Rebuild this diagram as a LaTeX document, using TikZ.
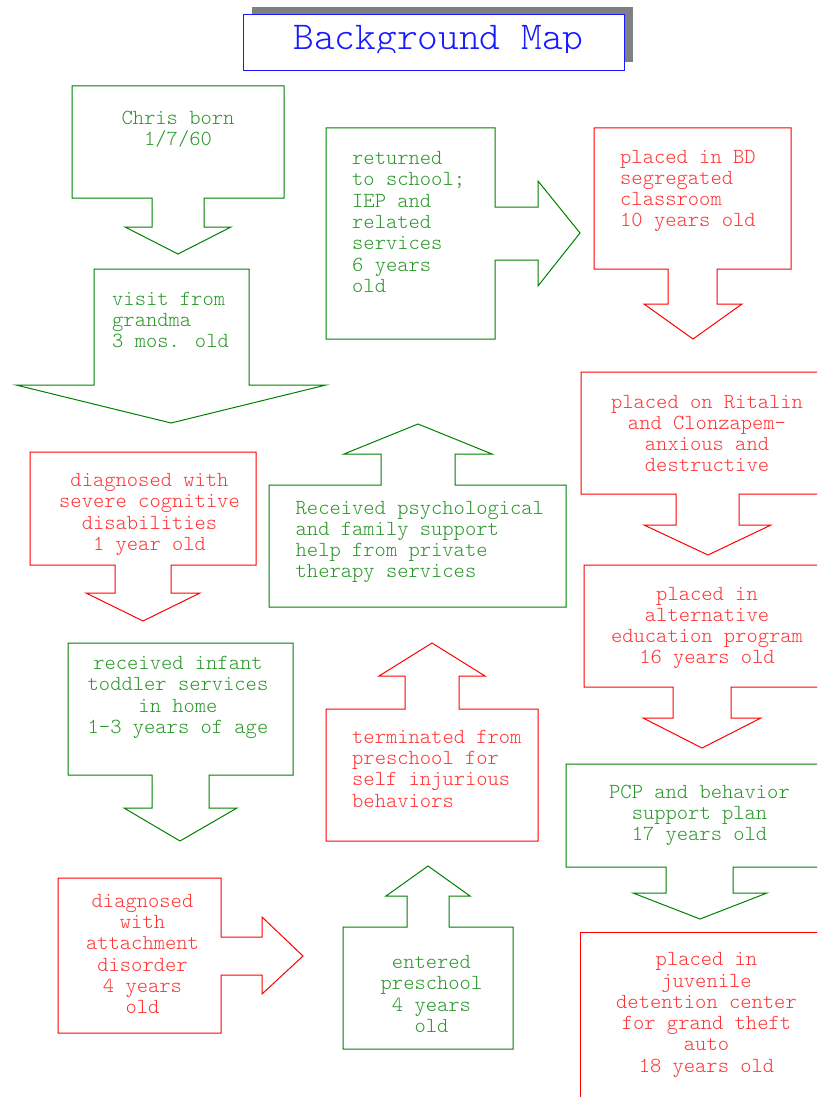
\documentclass[tikz,border=0pt]{standalone}
\usepackage{fontspec}
\newfontfamily\cour{Latin Modern Mono Light}
\definecolor{lgreen}{RGB}{0,128,0}
\definecolor{tgreen}{RGB}{40,150,40}
\definecolor{lred}{RGB}{255,0,0}
\definecolor{tred}{RGB}{255,50,50}
\definecolor{tblue}{RGB}{25,25,255}
\definecolor{shadowgray}{RGB}{128,128,128}
\tikzset{
  gshape/.style={draw=lgreen, line width=1pt, line join=miter},
  rshape/.style={draw=lred, line width=1pt, line join=miter},
  txt/.style={font=\cour\fontsize{21.5}{21.3}\selectfont, inner sep=0pt},
  gtxt/.style={txt, text=tgreen},
  rtxt/.style={txt, text=tred},
}
\begin{document}
\begin{tikzpicture}[x=1pt,y=-1pt]
\useasboundingbox (0,0) rectangle (817,1097);
\clip (0,0) rectangle (817,1097);
% title
\fill[shadowgray] (252,7) rectangle (633,62);
\draw[fill=white, draw=tblue, line width=1pt] (243,15) rectangle (624,71);
\begin{scope}
\clip (243,15) rectangle (624,52.5);
\node[anchor=base, inner sep=0pt, text=tblue, font=\cour\fontsize{39.5}{40}\selectfont] (title) at (438.5,50) {Background Map};
\end{scope}
% 1 Chris born
\draw[gshape] (72,86) -- (284,86) -- (284,198) -- (204,198) -- (204,227) -- (231,227) -- (178,254) -- (125,227) -- (152,227) -- (152,198) -- (72,198) -- cycle;
\node[gtxt, align=center] (born) at (178,129.5) {Chris born\\1/7/60};
% 2 visit
\draw[gshape] (94,269) -- (249,269) -- (249,385) -- (326,385) -- (171,423) -- (16,385) -- (94,385) -- cycle;
\node[gtxt, align=left, anchor=west] (visit) at (112,320) {visit from\\grandma\\3 mos. old};
% 3 returned
\draw[gshape] (326,128) -- (495,128) -- (495,207) -- (538,207) -- (538,181) -- (580,233) -- (538,286) -- (538,260) -- (495,260) -- (495,339) -- (326,339) -- cycle;
\node[gtxt, align=left, anchor=west] (returned) at (352,222) {returned\\to school;\\IEP and\\related\\services\\6 years\\old};
% 4 BD
\draw[rshape] (594,128) -- (791,128) -- (791,269) -- (717,269) -- (717,304) -- (742,304) -- (693,339) -- (644,304) -- (668,304) -- (668,269) -- (594,269) -- cycle;
\node[rtxt, align=left, anchor=west] (bd) at (620,191) {placed in BD\\segregated\\classroom\\10 years old};
% 5 Ritalin
\draw[rshape] (581,372) -- (830,372) -- (830,494) -- (739,494) -- (739,525) -- (771,525) -- (708,555) -- (644,525) -- (676,525) -- (676,494) -- (581,494) -- cycle;
\node[rtxt, align=center] (ritalin) at (707,433.5) {placed on Ritalin\\and Clonzapem-\\anxious and\\destructive};
% 6 alternative
\draw[rshape] (584,565) -- (830,565) -- (830,687) -- (731,687) -- (731,718) -- (761,718) -- (702,748) -- (643,718) -- (673,718) -- (673,687) -- (584,687) -- cycle;
\node[rtxt, align=center] (alt) at (707,628) {placed in\\alternative\\education program\\16 years old};
% 7 PCP
\draw[gshape] (566,764) -- (830,764) -- (830,867) -- (733,867) -- (733,893) -- (767,893) -- (700,919) -- (633,893) -- (666,893) -- (666,867) -- (566,867) -- cycle;
\node[gtxt, align=center] (pcp) at (699.5,815.5) {PCP and behavior\\support plan\\17 years old};
% 8 juvenile
\draw[rshape] (580,1110) -- (580,932) -- (830,932);
\node[rtxt, align=center] (juv) at (706.5,1015) {placed in\\juvenile\\detention center\\for grand theft\\auto\\18 years old};
% 9 cognitive
\draw[rshape] (30,452) -- (256,452) -- (256,565) -- (171,565) -- (171,593) -- (200,593) -- (143,621) -- (86,593) -- (115,593) -- (115,565) -- (30,565) -- cycle;
\node[rtxt, align=center] (cog) at (149.5,514.5) {diagnosed with\\severe cognitive\\disabilities\\1 year old};
% 10 infant
\draw[gshape] (68,643) -- (293,643) -- (293,775) -- (209,775) -- (209,808) -- (237,808) -- (180,841) -- (124,808) -- (152,808) -- (152,775) -- (68,775) -- cycle;
\node[gtxt, align=center] (infant) at (178,697.5) {received infant\\toddler services\\in home\\1-3 years of age};
% 11 attachment
\draw[rshape] (58,878) -- (221,878) -- (221,937) -- (262,937) -- (262,917) -- (303,956) -- (262,994) -- (262,975) -- (221,975) -- (221,1033) -- (58,1033) -- cycle;
\node[rtxt, align=center] (attach) at (142.5,954) {diagnosed\\with\\attachment\\disorder\\4 years\\old};
% 12 preschool
\draw[gshape] (343,927) -- (407,927) -- (407,896) -- (386,896) -- (428,866) -- (470,896) -- (449,896) -- (449,927) -- (513,927) -- (513,1049) -- (343,1049) -- cycle;
\node[gtxt, align=center] (pre) at (431.5,994) {entered\\preschool\\4 years\\old};
% 13 terminated
\draw[rshape] (326,709) -- (405,709) -- (405,676) -- (379,676) -- (432,643) -- (485,676) -- (459,676) -- (459,709) -- (538,709) -- (538,841) -- (326,841) -- cycle;
\node[rtxt, align=left, anchor=west] (term) at (352,768.5) {terminated from\\preschool for\\self injurious\\behaviors};
% 14 psychological
\draw[gshape] (269,485) -- (381,485) -- (381,454) -- (344,454) -- (418,424) -- (492,454) -- (455,454) -- (455,485) -- (566,485) -- (566,607) -- (269,607) -- cycle;
\node[gtxt, align=left, anchor=west] (psych) at (295.5,542) {Received psychological\\and family support\\help from private\\therapy services};
\end{tikzpicture}
\end{document}
